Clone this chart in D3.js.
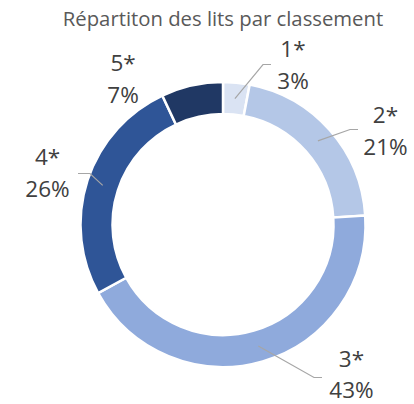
<!DOCTYPE html>
<html><head><meta charset="utf-8">
<script src="https://cdn.jsdelivr.net/npm/d3@7"></script>
<style>html,body{margin:0;padding:0;background:#fff;}svg{display:block;}</style>
</head><body>
<svg id="chart" width="414" height="404"></svg>
<script>
const title = "Répartiton des lits par classement";
const categories = ["1*", "2*", "3*", "4*", "5*"];
const values = [3, 21, 43, 26, 7];
const colors = ["#dae3f3", "#b4c7e7", "#8faadc", "#2f5597", "#203864"];
// label placement (centre x, name baseline, offsets from chart centre) and leader elbows
const labelOffsets = [[70, -167.5], [162.5, -101.5], [128.5, 142], [-175.5, -59.5], [-100, -153.5]];
const leaderElbows = [[[40, -160], [48, -160]], [[127, -95], [135, -95]], [[91, 153], [99, 153]], [[-133, -51], [-145, -51]], null];

const cx = 223, cy = 224.5, R = 142.5, r = 110.5;
const svg = d3.select("#chart");

svg.append("text").attr("x", 223).attr("y", 26).attr("text-anchor", "middle")
  .attr("font-family", "Open Sans, sans-serif").attr("font-size", 20.3)
  .attr("fill", "#595959").text(title);

const g = svg.append("g").attr("transform", `translate(${cx},${cy})`);
const pie = d3.pie().sort(null).value(d => d)(values);
const arc = d3.arc().innerRadius(r).outerRadius(R);
const mid = d3.arc().innerRadius((r + R) / 2).outerRadius((r + R) / 2);

g.selectAll("path.slice").data(pie).join("path").attr("class", "slice")
  .attr("d", arc).attr("fill", (d, i) => colors[i])
  .attr("stroke", "#fff").attr("stroke-width", 2.5);

pie.forEach((d, i) => {
  const e = leaderElbows[i];
  if (!e) return;
  const c = mid.centroid(d);
  g.append("path").attr("d", d3.line()([c, e[0], e[1]]))
    .attr("fill", "none").attr("stroke", "#a6a6a6").attr("stroke-width", 1.2);
});

pie.forEach((d, i) => {
  const [lx, ly] = labelOffsets[i];
  const t = g.append("text").attr("text-anchor", "middle")
    .attr("font-family", "Open Sans, sans-serif").attr("font-size", 22.5).attr("fill", "#404040");
  t.append("tspan").attr("x", lx).attr("y", ly).text(categories[i]);
  t.append("tspan").attr("x", lx).attr("y", ly + 31.5).text(Math.round(d.value / d3.sum(values) * 100) + "%");
});
</script>
</body></html>
